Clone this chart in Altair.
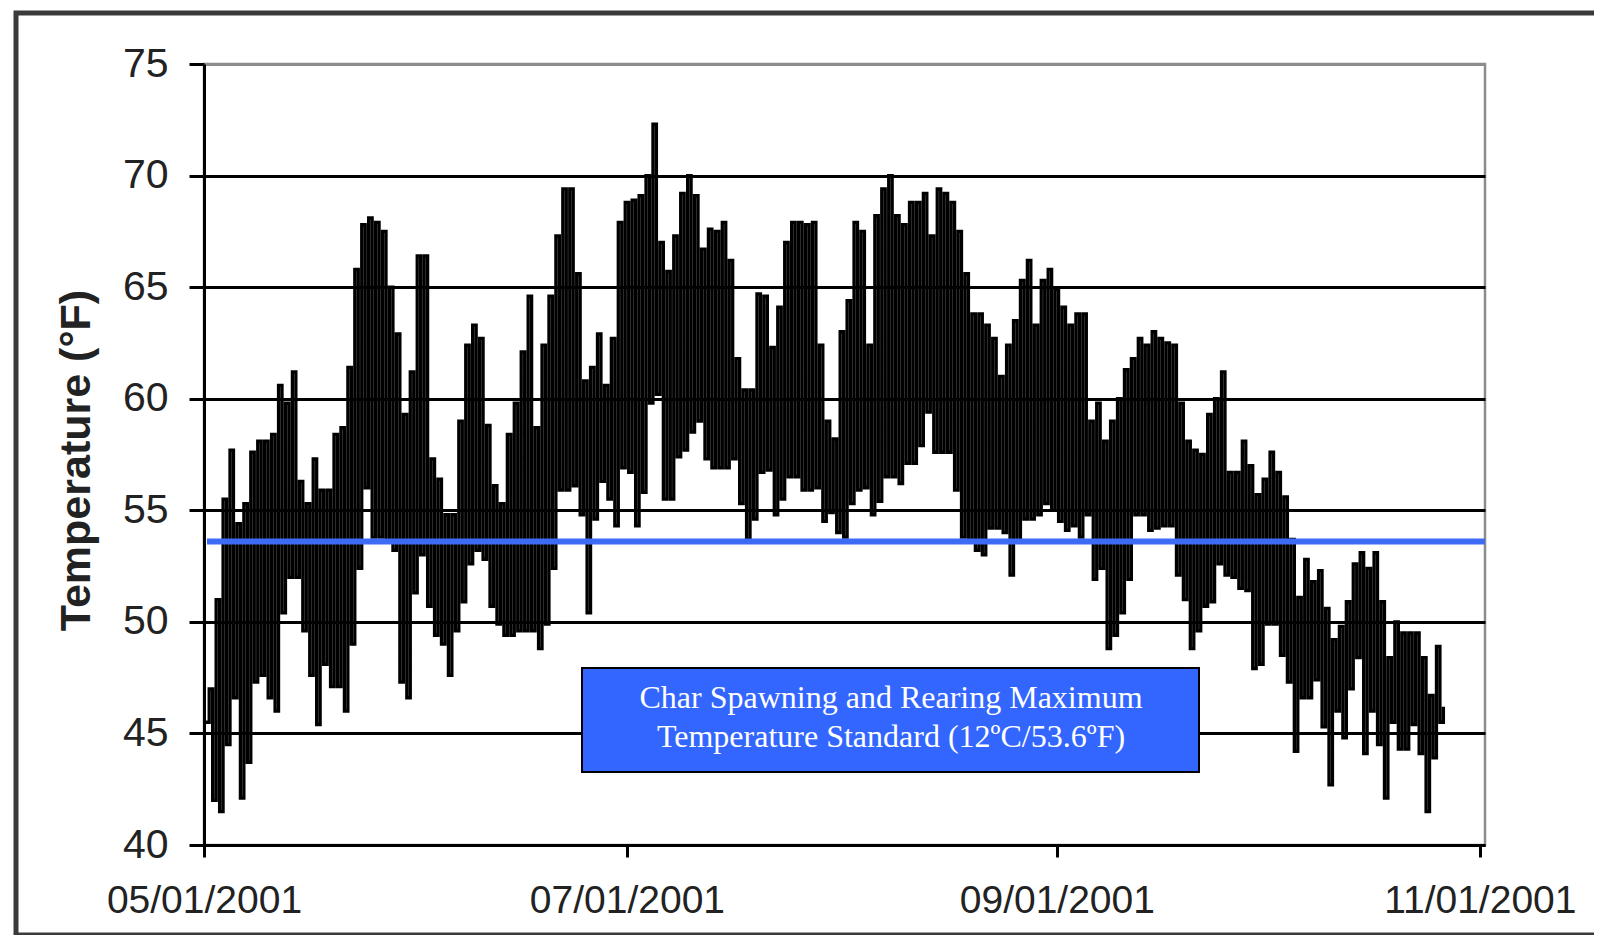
import altair as alt
import pandas as pd
from datetime import datetime, timedelta

# ---------------- data ----------------
start_date = datetime(2001, 5, 1)

daily_min = [
    45.5, 42.0, 41.5, 44.5, 46.6, 42.1, 43.7, 47.3, 47.6, 46.6,
    46.0, 50.4, 52.0, 52.0, 49.6, 47.6, 45.4, 48.1, 47.1, 47.1,
    46.0, 49.0, 52.4, 56.0, 53.8, 53.8, 53.6, 53.2, 47.3, 46.6,
    51.3, 53.0, 50.7, 49.4, 49.0, 47.6, 49.6, 50.9, 52.6, 53.2,
    52.8, 50.7, 49.9, 49.4, 49.4, 49.6, 49.6, 49.6, 48.8, 49.9,
    52.4, 55.9, 55.9, 56.1, 54.8, 50.4, 54.6, 56.3, 55.5, 54.3,
    56.9, 56.7, 54.3, 55.8, 59.8, 60.2, 55.5, 55.5, 57.4, 57.7,
    58.5, 59.0, 57.3, 56.9, 56.9, 56.9, 57.3, 55.3, 53.7, 54.6,
    56.7, 56.8, 54.8, 55.5, 56.5, 56.5, 55.9, 55.9, 56.0, 54.5,
    54.9, 54.0, 53.8, 55.3, 55.9, 56.0, 54.8, 55.4, 56.5, 56.5,
    56.2, 57.1, 57.1, 57.9, 59.4, 57.6, 57.6, 57.6, 55.9, 53.8,
    53.6, 53.2, 53.0, 54.2, 54.2, 54.0, 52.1, 53.6, 54.6, 54.6,
    54.8, 55.3, 55.0, 54.5, 54.1, 54.3, 53.8, 54.8, 51.9, 52.4,
    48.8, 49.4, 50.4, 51.9, 54.8, 54.8, 54.1, 54.2, 54.3, 54.3,
    52.1, 51.0, 48.8, 49.6, 50.7, 50.9, 52.6, 52.1, 52.0, 51.5,
    51.4, 47.9, 48.1, 49.9, 49.9, 48.5, 47.3, 44.2, 46.6, 46.6,
    47.4, 45.3, 42.7, 46.0, 44.8, 47.0, 48.4, 44.1, 46.0, 44.5,
    42.1, 45.5, 44.3, 44.3, 45.4, 44.1, 41.5, 43.9, 45.5,
]

daily_max = [
    47.0, 51.0, 55.5, 57.7, 54.4, 55.3, 57.6, 58.1, 58.1, 58.4,
    60.6, 59.8, 61.2, 56.3, 55.3, 57.3, 55.9, 55.9, 58.4, 58.7,
    61.4, 65.8, 67.8, 68.1, 67.9, 67.5, 65.0, 62.9, 59.3, 61.2,
    66.4, 66.4, 57.3, 56.4, 54.8, 54.8, 59.0, 62.4, 63.3, 62.7,
    58.8, 56.1, 55.3, 58.4, 59.8, 62.1, 64.6, 58.7, 62.4, 64.6,
    67.3, 69.4, 69.4, 65.6, 60.8, 61.4, 62.9, 60.6, 62.7, 67.9,
    68.8, 68.9, 69.1, 70.0, 72.3, 67.0, 65.7, 67.3, 69.2, 70.0,
    69.1, 66.7, 67.6, 67.5, 67.9, 66.2, 61.8, 60.4, 60.4, 64.7,
    64.6, 62.3, 64.1, 67.0, 67.9, 67.9, 67.8, 67.9, 62.4, 59.0,
    58.2, 63.0, 64.4, 67.9, 67.5, 62.4, 68.2, 69.4, 70.0, 68.2,
    67.8, 68.8, 68.8, 69.2, 67.3, 69.4, 69.2, 68.8, 67.5, 65.6,
    63.8, 63.8, 63.3, 62.7, 61.0, 62.4, 63.5, 65.3, 66.2, 63.3,
    65.3, 65.8, 64.9, 64.1, 63.3, 63.8, 63.8, 59.0, 59.8, 58.1,
    59.0, 60.0, 61.3, 61.8, 62.7, 62.4, 63.0, 62.7, 62.5, 62.4,
    59.8, 58.1, 57.7, 57.5, 59.3, 60.0, 61.2, 56.7, 56.7, 58.1,
    57.0, 55.7, 56.4, 57.6, 56.7, 55.6, 53.7, 51.1, 52.8, 51.8,
    52.3, 50.6, 49.2, 49.8, 50.9, 52.6, 53.1, 52.4, 53.1, 50.9,
    48.4, 50.0, 49.5, 49.5, 49.5, 48.4, 46.7, 48.9, 46.2,
]

y_ticks = [40, 45, 50, 55, 60, 65, 70, 75]
x_ticks = [(2001, 5, 1), (2001, 7, 1), (2001, 9, 1), (2001, 11, 1)]
standard_f = [53.6]
box_lines = ["Char Spawning and Rearing Maximum",
             "Temperature Standard (12\u00baC/53.6\u00baF)"]

# trace: daily low in the morning, daily high in the afternoon
rows = []
for i, (lo, hi) in enumerate(zip(daily_min, daily_max)):
    day = start_date + timedelta(days=i)
    rows.append({"t": (day + timedelta(hours=6)).isoformat(), "temp": lo})
    rows.append({"t": (day + timedelta(hours=18)).isoformat(), "temp": hi})
trace = pd.DataFrame(rows)

W, H = 1281, 781

x_scale = alt.Scale(domain=[alt.DateTime(year=2001, month=5, date=1),
                            alt.DateTime(year=2001, month=11, date=1, hours=18)],
                    nice=False)
y_scale = alt.Scale(domain=[40, 75], nice=False, zero=False)

x_axis = alt.Axis(
    values=[alt.DateTime(year=y, month=m, date=d) for (y, m, d) in x_ticks],
    format="%m/%d/%Y", title=None, grid=False,
    domainColor="black", domainWidth=3, tickColor="black", tickWidth=3,
    tickSize=12, labelFont="Liberation Sans", labelFontSize=39,
    labelColor="#222222", labelPadding=24, labelFlush=False, labelLimit=600,
    labelOverlap=False,
)
y_axis = alt.Axis(
    values=y_ticks, title="Temperature (\u00b0F)", grid=True,
    gridColor={"condition": {"test": "datum.value >= 75", "value": "#8c8c8c"},
               "value": "black"},
    gridWidth=3, domainColor="black", domainWidth=3, tickColor="black",
    tickWidth=3, tickSize=15, labelFont="Liberation Sans", labelFontSize=41,
    labelColor="#222222", labelPadding=21,
    titleFont="Liberation Sans", titleFontSize=43, titleFontWeight="bold",
    titleColor="#222222", titleAngle=270, titleX=-128, titleY=396,
    titleAlign="center", titleBaseline="middle",
)

line = alt.Chart(trace).mark_line(
    interpolate="step-after", color="black", strokeWidth=3.3
).encode(
    x=alt.X("t:T", scale=x_scale, axis=x_axis),
    y=alt.Y("temp:Q", scale=y_scale, axis=y_axis),
)

rule = alt.Chart(pd.DataFrame({"v": standard_f})).mark_rule(
    color="#3c6cf6", strokeWidth=6
).encode(
    y=alt.Y("v:Q", scale=y_scale),
    x=alt.value(3), x2=alt.value(W),
)

one = pd.DataFrame({"k": [0]})
box = alt.Chart(one).mark_rect(
    fill="#3366ff", stroke="black", strokeWidth=2
).encode(
    x=alt.value(378), x2=alt.value(995), y=alt.value(604), y2=alt.value(708),
)
box_text = alt.Chart(one).mark_text(
    text=box_lines, font="Liberation Serif", fontSize=32, color="white",
    align="center", baseline="alphabetic", lineHeight=38.5,
).encode(x=alt.value(687), y=alt.value(644))

frame = alt.Chart(one).mark_rect(
    fill="transparent", stroke="#3a3a3a", strokeWidth=5
).encode(
    x=alt.value(-188), x2=alt.value(1430), y=alt.value(-51), y2=alt.value(871),
)

chart = alt.layer(frame, line, rule, box, box_text).properties(
    width=W, height=H,
    autosize=alt.AutoSizeParams(type="none"),
    padding={"left": 196, "top": 56, "right": 109, "bottom": 90},
).configure_view(stroke="#8c8c8c", strokeWidth=2.5)

chart.save("out.html", embed_options={"renderer": "svg", "actions": False})
